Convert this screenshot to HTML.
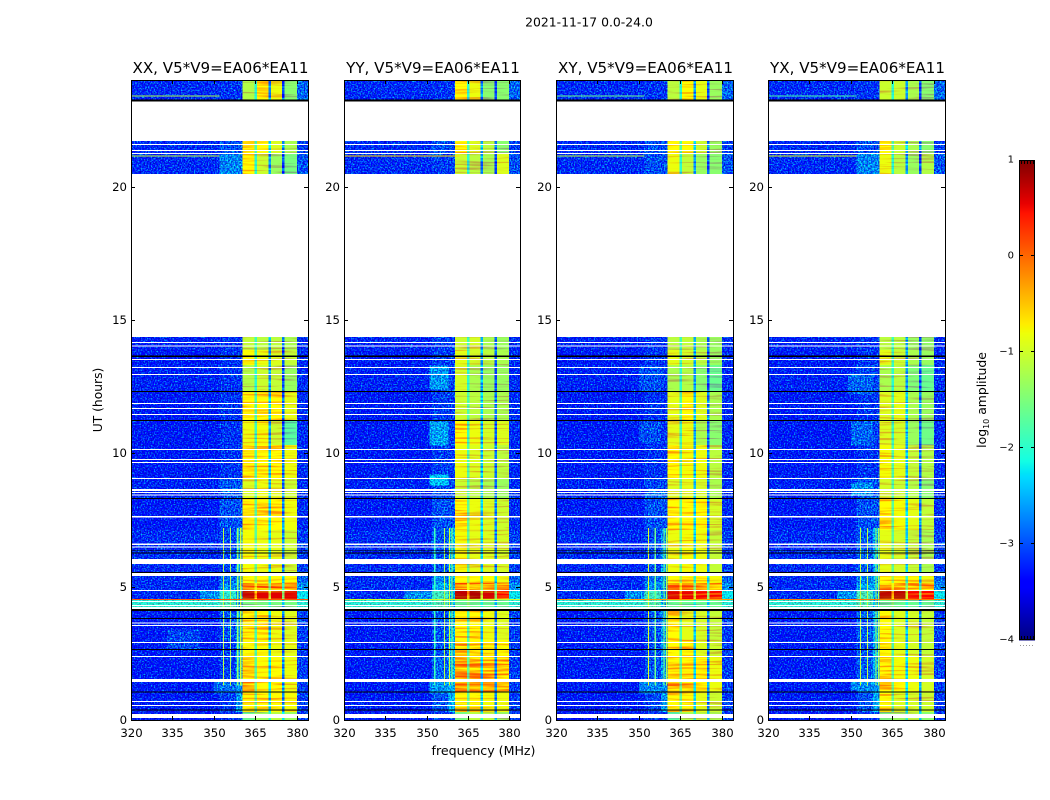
<!DOCTYPE html>
<html lang="en">
<head>
<meta charset="utf-8">
<title>2021-11-17 0.0-24.0 dynamic spectra</title>
<style>
html,body{margin:0;padding:0;background:#fff;}
svg{display:block;font-family:"DejaVu Sans","Liberation Sans",sans-serif;}
text{fill:#000;}
</style>
</head>
<body>
<svg id="figure" xmlns="http://www.w3.org/2000/svg" width="1050" height="800" viewBox="0 0 1050 800">
  <defs>
    <filter id="noise-bg" filterUnits="userSpaceOnUse" x="0" y="0" width="1050" height="800" color-interpolation-filters="sRGB">
      <feTurbulence type="fractalNoise" baseFrequency="0.7" numOctaves="1" seed="3" result="t1"/>
      <feColorMatrix in="t1" type="matrix" values="0 0 0 0 0.3  2.2 0 0 0 -0.8  0 0 0 0 0.3  0 0 0 0 1" result="g1"/>
      <feComposite in="SourceGraphic" in2="g1" operator="arithmetic" k1="0" k2="1" k3="1" k4="-0.3" result="added"/>
      <feTurbulence type="fractalNoise" baseFrequency="0.6" numOctaves="1" seed="11" result="t2"/>
      <feColorMatrix in="t2" type="matrix" values="1.6 0 0 0 0  1.6 0 0 0 0  1.6 0 0 0 0  0 0 0 0 1" result="m"/>
      <feComposite in="added" in2="m" operator="arithmetic" k1="0.7" k2="0.45" k3="0" k4="0" result="shaded"/>
      <feComposite in="shaded" in2="SourceAlpha" operator="in"/>
    </filter>
    <filter id="noise-bright" filterUnits="userSpaceOnUse" x="0" y="0" width="1050" height="800" color-interpolation-filters="sRGB">
      <feTurbulence type="fractalNoise" baseFrequency="0.02 0.5" numOctaves="2" seed="7" result="t1"/>
      <feColorMatrix in="t1" type="matrix" values="0 0 0 0 0.3  1.6 0 0 0 -0.45  0 0 0 0 0.3  0 0 0 0 1" result="g1"/>
      <feComposite in="SourceGraphic" in2="g1" operator="arithmetic" k1="0" k2="1" k3="1" k4="-0.3" result="added"/>
      <feComposite in="added" in2="SourceAlpha" operator="in"/>
    </filter>
  </defs>
  <text x="589" y="26.5" font-size="12.4" text-anchor="middle">2021-11-17 0.0-24.0</text>
  <g id="panels"></g>
  <text transform="translate(102,400) rotate(-90)" font-size="12.3" text-anchor="middle">UT (hours)</text>
  <text x="483.5" y="755" font-size="12.6" text-anchor="middle">frequency (MHz)</text>
  <g id="colorbar"></g>
  <text transform="translate(986,400) rotate(-90)" font-size="12.4" text-anchor="middle">log<tspan font-size="8" dy="3">10</tspan><tspan dy="-3"> amplitude</tspan></text>
</svg>
<script>
// ---------- data ----------
const panelNames = ['XX', 'YY', 'XY', 'YX'];
const baselineLabel = 'V5*V9=EA06*EA11';
const xTickLabels = [320, 335, 350, 365, 380];
const yTickLabels = [0, 5, 10, 15, 20];
const colorTickLabels = [-4, -3, -2, -1, 0, 1];

// UT boundaries of the time blocks (24 blocks)
const utEdges = [0, 0.3, 1.05, 1.5, 2.36, 3.0, 4.16, 4.5, 4.84, 5.14, 5.55, 7.12, 8.32, 9.07, 10.31, 11.25, 12.34, 13.31, 13.87, 14.36, 20.47, 21.22, 21.71, 23.21, 24];
// frequency band boundaries (MHz): background, shoulder, four bright sub-bands, right edge
const bandEdges = [320, 352, 360.4, 365, 370, 375, 380, 384];
const notchFreqs = [365, 370, 375];
const notchTrim = [0.6, -0.1, -0.5];

// log10 amplitude per time block
const bgValues = [-3.3, -3.3, -3.3, -3.3, -3.3, -3.3, -2.0, -3.2, -3.2, -3.2, -3.2, -3.3, -3.25, -3.3, -3.3, -3.3, -3.25, -3.3, -3.25, null, -3.2, -3.2, null, -3.2];
const rightValues = [-3.1, -3.1, -3.1, -3.1, -3.1, -3.1, -2.0, -2.2, -2.7, -2.9, -3.1, -3.2, -3.2, -3.2, -3.2, -3.2, -3.2, -3.2, -3.2, null, -3.0, -3.1, null, -2.9];
const notchValues = [-1.9, -2.3, -2.2, -2.3, -2.4, -2.4, -2.0, -0.9, -1.4, -1.9, -2.3, -2.3, -2.4, -2.4, -2.5, -2.4, -2.6, -2.5, -2.5, null, -2.6, -2.4, null, -2.6];

const midXX = [-3.15, -3.1, -2.85, -3.1, -3.1, -3.0, -1.8, -2.0, -2.7, -2.9, -3.05, -3.0, -3.0, -3.15, -3.15, -3.15, -3.15, -3.15, -3.15, null, -2.75, -3.0, null, -3.15];
const midYY = [-3.1, -3.0, -2.7, -2.9, -3.0, -3.0, -1.8, -1.9, -2.55, -2.7, -3.0, -3.0, -3.05, -3.1, -3.1, -3.1, -3.05, -3.1, -3.1, null, -3.1, -3.0, null, -3.15];
const midXY = [-3.15, -3.05, -2.85, -3.0, -3.05, -3.0, -1.8, -1.9, -2.7, -2.85, -3.05, -3.0, -3.05, -3.15, -3.15, -3.15, -3.1, -3.15, -3.15, null, -3.0, -3.0, null, -3.15];
const midYX = [-3.1, -3.0, -2.8, -2.95, -3.0, -2.95, -1.8, -1.85, -2.6, -2.75, -2.95, -3.0, -3.0, -3.15, -3.1, -3.15, -3.05, -3.15, -3.15, null, -2.75, -3.0, null, -3.15];

// four bright sub-bands per time block
const brightXX = [[-1.5,-1.2,-1.0,-1.2],[-.55,-.55,-.6,-.65],[-.2,-.5,-.5,-.7],[-.35,-.6,-.6,-.7],[-.6,-.6,-.7,-.75],[-.5,-.5,-.7,-.8],[-1.4,-1.4,-1.4,-1.4],[.8,.7,.7,.7],[0,-.05,.05,0],[-.6,-.5,-.6,-.6],[-.65,-.7,-.75,-.9],[-.5,-.45,-.5,-.7],[-.8,-.7,-.75,-.9],[-.45,-.5,-.5,-.7],[-.7,-.65,-.9,-1.6],[-.55,-.5,-.55,-.75],[-1.05,-.9,-.95,-1.2],[-.6,-.7,-.8,-.95],[-.95,-1,-1,-1.1],null,[-.55,-.9,-1.2,-1.4],[-.4,-.5,-.8,-1.1],null,[-1.05,-.5,-.7,-1.3]];
const brightYY = [[-1.4,-1.0,-1.0,-1.2],[-.5,-.55,-.65,-.7],[-.05,-.1,-.15,-.3],[-.1,-.2,-.25,-.3],[-.3,-.5,-.55,-.6],[-.55,-.55,-.7,-.8],[-1.5,-1.5,-1.5,-1.5],[.85,.9,.75,.5],[.15,.05,.05,0],[-.55,-.5,-.6,-.7],[-.65,-.75,-.8,-.85],[-.45,-.7,-.8,-.9],[-.9,-1,-1.1,-1.2],[-.7,-.8,-.9,-1],[-.5,-.7,-.85,-.8],[-.9,-1,-1.1,-1.1],[-.85,-1.1,-1.2,-1.2],[-.75,-.85,-1,-1.1],[-.9,-.85,-1.1,-1.2],null,[-.9,-1,-1.1,-.8],[-.5,-.8,-1,-1.3],null,[-.55,-.7,-1.3,-1.3]];
const brightXY = [[-1.6,-1.1,-1,-1.1],[-.55,-.55,-.75,-.9],[-.2,-.3,-.4,-.7],[-.35,-.4,-.5,-.7],[-.55,-.4,-.8,-.9],[-.5,-.75,-.85,-.95],[-1.5,-1.5,-1.5,-1.5],[.7,.65,.6,.6],[0,-.05,-.05,-.1],[-.6,-.5,-.55,-.65],[-.7,-.65,-.7,-.95],[-.45,-.5,-.6,-.85],[-.8,-.75,-.85,-1.1],[-.55,-.65,-.7,-1],[-.75,-.7,-1.1,-1.3],[-.75,-.6,-.8,-1.1],[-1.1,-1.05,-1.3,-1.5],[-.75,-.85,-1,-1.2],[-1,-.95,-1.1,-1.2],null,[-.7,-.95,-1.2,-1.3],[-.5,-.6,-.9,-1.2],null,[-1,-.6,-.75,-1.2]];
const brightYX = [[-1.4,-1.2,-1,-1.3],[-.6,-.8,-.85,-.9],[-.35,-.55,-.7,-.85],[-.4,-.65,-.7,-.85],[-.6,-.75,-.85,-.95],[-.6,-.8,-.85,-.95],[-1.5,-1.5,-1.5,-1.5],[.85,.85,.6,.5],[-.05,-.1,-.2,-.2],[-.55,-.55,-.6,-.7],[-.75,-.85,-.95,-1.1],[-.55,-.65,-.75,-.95],[-.85,-.9,-1.05,-1.3],[-.65,-.75,-.95,-1.05],[-.8,-.85,-1.2,-1.45],[-.8,-.75,-1.1,-1.2],[-1.1,-1,-1.35,-1.5],[-.75,-.9,-1.1,-1.2],[-1,-1,-1.2,-1.25],null,[-.7,-1,-1.2,-1.05],[-.5,-.9,-1.1,-1.3],null,[-.9,-.9,-1.1,-1.3]];

// localized patches: [freq low, freq high, UT low, UT high, log amp]
const patchesXX = [[358,360.4,0.3,7.2,-2.65],[345,352,4.5,4.84,-2.7],[350,358,1.0,1.5,-2.85],[352,360.4,8.4,8.9,-2.95],[333,345,2.6,3.4,-3.05]];
const patchesYY = [[358,360.4,0.3,7.2,-2.5],[342,352,4.5,4.84,-2.7],[351,358,10.3,11.2,-2.6],[351,358,12.4,13.3,-2.65],[351,358,8.8,9.2,-2.4],[351,358,1.0,1.5,-2.65]];
const patchesXY = [[358,360.4,0.3,7.2,-2.65],[345,352,4.5,4.84,-2.7],[350,358,12.3,13.3,-3.0],[350,358,10.4,11.2,-3.0],[352,360.4,8.3,8.6,-2.85],[350,360.4,1.0,1.5,-2.75]];
const patchesYX = [[358,360.4,0.3,7.2,-2.55],[345,352,4.5,4.84,-2.7],[350,358,8.4,8.9,-2.7],[350,358,10.3,11.2,-2.9],[349,358,12.2,13.0,-2.9],[350,360.4,1.1,1.5,-2.7]];

// narrow vertical interference: [freq, UT low, UT high, log amp]
const rfiVerticalXX = [[353.4,1.3,7.2,-1.1],[356,1.3,7.2,-1.2],[358.6,1.3,7.2,-1.4],[359.7,1.3,7.2,-1.0]];
const rfiVerticalYY = [[353,1.3,7.2,-1.9],[356.5,1.3,7.2,-1.2],[358.3,1.3,7.2,-1.0],[359.3,1.3,7.2,-1.3]];
const rfiVerticalXY = [[353.4,1.3,7.2,-0.9],[355.9,1.3,7.2,-1.6],[359,1.3,7.2,-1.5],[360,1.3,7.2,-1.2]];
const rfiVerticalYX = [[353.4,1.3,7.2,-1.1],[356,1.3,7.2,-1.1],[359,1.3,7.2,-1.3],[360,1.3,7.2,-1.2]];

// narrow horizontal interference: [UT, freq low, freq high, log amp]
const rfiHorizontalXX = [[23.4,320,352,-1.2],[21.15,320,352,-1.1],[4.52,320,384,0.1]];
const rfiHorizontalYY = [[21.15,320,362,-0.6],[4.52,320,384,-1.0]];
const rfiHorizontalXY = [[23.4,320,352,-1.6],[21.15,320,352,-1.1],[4.52,320,384,-0.3]];
const rfiHorizontalYX = [[23.4,320,352,-1.8],[21.15,320,352,-0.9],[4.52,320,384,-0.1]];

// flagged rows: [UT low, UT high]
const flaggedBlank = [[21.71,23.21],[14.36,20.47],[21.56,21.6],[21.33,21.375],[21.22,21.26],[14.13,14.175],[14.0,14.05],[13.5,13.54],[13.2,13.24],[12.93,12.98],[11.85,11.89],[11.66,11.70],[11.44,11.48],[10.12,10.16],[9.75,9.79],[9.64,9.68],[9.03,9.07],[8.59,8.66],[8.51,8.55],[8.41,8.45],[7.6,7.65],[6.56,6.62],[6.46,6.51],[5.85,6.04],[5.4,5.52],[4.84,4.875],[4.425,4.46],[4.275,4.31],[4.16,4.24],[3.61,3.66],[3.52,3.56],[2.88,2.925],[2.36,2.4],[1.425,1.54],[0.67,0.71],[0.52,0.56],[0.075,0.225]];
const flaggedZero = [[23.2,23.27],[13.62,13.66],[12.3,12.34],[11.21,11.25],[8.29,8.325],[6.33,6.36],[6.25,6.28],[5.52,5.55],[4.09,4.16],[3.79,3.825],[2.625,2.66],[1.03,1.07],[0.355,0.39]];

const panelBrights = [brightXX, brightYY, brightXY, brightYX];
const panelMids = [midXX, midYY, midXY, midYX];
const panelPatches = [patchesXX, patchesYY, patchesXY, patchesYX];
const panelRfiV = [rfiVerticalXX, rfiVerticalYY, rfiVerticalXY, rfiVerticalYX];
const panelRfiH = [rfiHorizontalXX, rfiHorizontalYY, rfiHorizontalXY, rfiHorizontalYX];

// ---------- geometry ----------
const plotLefts = [131, 344, 556, 768];
const plotWidths = [177, 176, 177, 177];
const plotTop = 80;
const plotBottom = 720;
const freqMin = 320;
const freqMax = 384;
const utMax = 24;
const ampMin = -4;
const ampMax = 1;
const brightOffset = -0.12;
const NS = 'http://www.w3.org/2000/svg';

function xAxis(p, freq) { return plotLefts[p] + (freq - freqMin) / (freqMax - freqMin) * plotWidths[p]; }
function yAxis(ut) { return plotBottom - ut / utMax * (plotBottom - plotTop); }

function interp(points, t) {
  for (let i = 1; i < points.length; i++) {
    if (t <= points[i][0]) {
      const a = points[i - 1], b = points[i];
      return a[1] + (b[1] - a[1]) * (t - a[0]) / (b[0] - a[0]);
    }
  }
  return points[points.length - 1][1];
}
const jetR = [[0,0],[0.35,0],[0.66,1],[0.89,1],[1,0.5]];
const jetG = [[0,0],[0.125,0],[0.375,1],[0.64,1],[0.91,0],[1,0]];
const jetB = [[0,0.5],[0.11,1],[0.34,1],[0.65,0],[1,0]];
function ampColor(v) {
  const t = Math.max(0, Math.min(1, (v - ampMin) / (ampMax - ampMin)));
  return 'rgb(' + Math.round(255 * interp(jetR, t)) + ',' + Math.round(255 * interp(jetG, t)) + ',' + Math.round(255 * interp(jetB, t)) + ')';
}

function makeRect(parent, x, y, w, h, fill) {
  const r = document.createElementNS(NS, 'rect');
  r.setAttribute('x', x);
  r.setAttribute('y', y);
  r.setAttribute('width', w);
  r.setAttribute('height', h);
  r.setAttribute('fill', fill);
  r.setAttribute('shape-rendering', 'crispEdges');
  parent.appendChild(r);
  return r;
}
function makeGroup(parent, name) {
  const g = document.createElementNS(NS, 'g');
  
  
  parent.appendChild(g);
  return g;
}
function makeLine(parent, x1, y1, x2, y2, color) {
  const l = document.createElementNS(NS, 'line');
  l.setAttribute('x1', x1);
  l.setAttribute('y1', y1);
  l.setAttribute('x2', x2);
  l.setAttribute('y2', y2);
  l.setAttribute('stroke', color);
  l.setAttribute('stroke-width', '1');
  l.setAttribute('shape-rendering', 'crispEdges');
  parent.appendChild(l);
  return l;
}
function makeText(parent, x, y, str, size, anchor) {
  const t = document.createElementNS(NS, 'text');
  t.setAttribute('x', x);
  t.setAttribute('y', y);
  t.setAttribute('font-size', size);
  t.setAttribute('text-anchor', anchor);
  t.textContent = str;
  parent.appendChild(t);
  return t;
}
function cellRect(parent, p, f0, f1, u0, u1, value) {
  const x0 = xAxis(p, f0);
  const x1 = xAxis(p, f1);
  const yTop = yAxis(u1);
  const yBot = yAxis(u0);
  const r = makeRect(parent, x0, yTop, Math.max(x1 - x0, 0.8), Math.max(yBot - yTop, 0.8), ampColor(value));
  
  
  return r;
}

// ---------- panels ----------
const panelsRoot = document.getElementById('panels');
panelNames.forEach(function (pol, p) {
  const left = plotLefts[p];
  const plotWidth = plotWidths[p];
  const key = pol.toLowerCase();
  const panel = makeGroup(panelsRoot, 'panel-' + key);
  const bgLayer = makeGroup(panel, 'heatmap-background-' + key);
  bgLayer.setAttribute('filter', 'url(#noise-bg)');
  const brightLayer = makeGroup(panel, 'heatmap-bright-band-' + key);
  brightLayer.setAttribute('filter', 'url(#noise-bright)');
  const overlay = makeGroup(panel, 'heatmap-interference-' + key);

  for (let s = 0; s < utEdges.length - 1; s++) {
    const u0 = utEdges[s];
    const u1 = utEdges[s + 1];
    if (bgValues[s] === null) continue;
    cellRect(bgLayer, p, bandEdges[0], bandEdges[1], u0, u1, bgValues[s]);
    cellRect(bgLayer, p, bandEdges[1], bandEdges[2], u0, u1, panelMids[p][s]);
    cellRect(bgLayer, p, bandEdges[6], bandEdges[7], u0, u1, rightValues[s]);
    const row = panelBrights[p][s];
    for (let b = 0; b < 4; b++) {
      cellRect(brightLayer, p, bandEdges[2 + b], bandEdges[3 + b], u0, u1, row[b] + brightOffset);
    }
    notchFreqs.forEach(function (f, n) {
      cellRect(brightLayer, p, f - 0.35, f + 0.55, u0, u1, notchValues[s] + notchTrim[n]);
    });
  }
  panelPatches[p].forEach(function (q) {
    cellRect(bgLayer, p, q[0], q[1], q[2], q[3], q[4]);
  });
  panelRfiV[p].forEach(function (q) {
    cellRect(overlay, p, q[0] - 0.2, q[0] + 0.2, q[1], q[2], q[3]);
  });
  panelRfiH[p].forEach(function (q) {
    cellRect(overlay, p, q[1], q[2], q[0] - 0.02, q[0] + 0.02, q[3]);
  });

  const flags = makeGroup(panel, 'flagged-rows-' + key);
  flaggedBlank.forEach(function (q) {
    const y0 = yAxis(q[1]);
    const r = makeRect(flags, left, y0, plotWidth, yAxis(q[0]) - y0, '#fff');
    
    
  });
  flaggedZero.forEach(function (q) {
    const y0 = yAxis(q[1]);
    const r = makeRect(flags, left, y0, plotWidth, yAxis(q[0]) - y0, '#000');
    
    
  });

  // axes
  const axes = makeGroup(panel, 'axes-' + key);
  const frame = makeRect(axes, left + 0.5, plotTop + 0.5, plotWidth, plotBottom - plotTop, 'none');
  frame.setAttribute('stroke', '#000');
  frame.setAttribute('stroke-width', '1');
  
  

  xTickLabels.forEach(function (f) {
    const x = Math.round(xAxis(p, f)) + 0.5;
    makeLine(axes, x, plotBottom, x, plotBottom - 4, '#000');
    makeLine(axes, x, plotTop, x, plotTop + 4, '#000');
    const t = makeText(axes, x, plotBottom + 17, String(f), 11.7, 'middle');
    
    
  });
  yTickLabels.forEach(function (u) {
    const y = Math.round(yAxis(u)) + 0.5;
    makeLine(axes, left, y, left + 4, y, '#000');
    makeLine(axes, left + plotWidth, y, left + plotWidth - 4, y, '#000');
    const t = makeText(axes, left - 4, y + 3.5, String(u), 11.7, 'end');
    
    
  });
  const title = makeText(panel, left + plotWidth / 2 + 1, 73, pol + ', ' + baselineLabel, 15.1, 'middle');
  
  
});

// ---------- colorbar ----------
const cbar = document.getElementById('colorbar');
const cbLeft = 1019;
const cbRight = 1035;
const cbTop = 160;
const cbBottom = 640;
function cbY(v) { return cbBottom - (v - ampMin) / (ampMax - ampMin) * (cbBottom - cbTop); }
for (let i = 0; i < 240; i++) {
  const v0 = ampMin + (ampMax - ampMin) * i / 240;
  const v1 = ampMin + (ampMax - ampMin) * (i + 1) / 240;
  const r = makeRect(cbar, cbLeft, cbY(v1), cbRight - cbLeft, cbY(v0) - cbY(v1) + 0.5, ampColor((v0 + v1) / 2));
  
  
}
const cbFrame = makeRect(cbar, cbLeft + 0.5, cbTop + 0.5, cbRight - cbLeft - 1, cbBottom - cbTop - 1, 'none');
cbFrame.setAttribute('stroke', '#000');
cbFrame.setAttribute('stroke-width', '1');


colorTickLabels.forEach(function (v) {
  const y = Math.round(cbY(v)) - 0.5;
  if (v > ampMin && v < ampMax) {
    makeLine(cbar, cbLeft, y, cbLeft + 4, y, '#000');
    makeLine(cbar, cbRight - 4, y, cbRight, y, '#000');
  }
  const t = makeText(cbar, cbLeft - 5, y + 3, String(v).replace('-', '\u2212'), 10, 'end');
  
  
});
for (let x = cbLeft + 2; x < cbRight; x += 3) {
  makeLine(cbar, x + 0.5, cbTop, x + 0.5, cbTop + 4, '#000');
  makeLine(cbar, x + 0.5, cbBottom - 4, x + 0.5, cbBottom, '#000');
  const d = makeRect(cbar, x - 1, cbBottom + 5, 1, 1, '#999');
  
  
}
</script>
</body>
</html>
